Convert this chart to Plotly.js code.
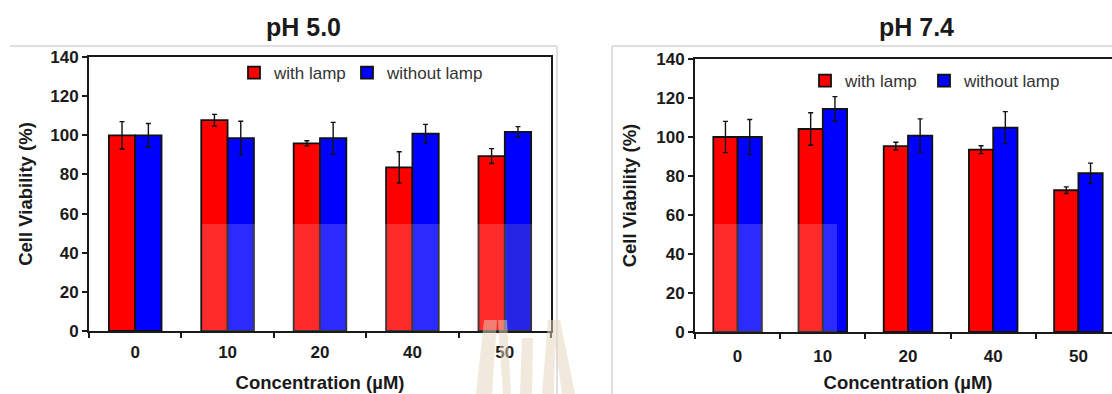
<!DOCTYPE html>
<html>
<head>
<meta charset="utf-8">
<script src="https://cdn.plot.ly/plotly-3.0.1.min.js"></script>
<style>
html, body { margin: 0; padding: 0; overflow: hidden; background: #fff; }
#chart { width: 1126px; height: 394px; }
</style>
</head>
<body>
<div id="chart"></div>
<script>
// ---- data ----
const concentrations = ['0', '10', '20', '40', '50'];

const ph50_withLamp = [100, 107.7, 95.9, 83.6, 89.4];
const ph50_withLampErr = [7, 3, 1.3, 8, 3.8];
const ph50_withoutLamp = [100, 98.6, 98.6, 100.8, 101.7];
const ph50_withoutLampErr = [6, 8.6, 8, 4.8, 2.7];

const ph74_withLamp = [100, 104.1, 95.3, 93.5, 72.7];
const ph74_withLampErr = [8, 8.3, 2, 2, 1.7];
const ph74_withoutLamp = [100, 114.4, 100.7, 104.8, 81.4];
const ph74_withoutLampErr = [9, 6.3, 8.6, 8.2, 5.2];

const panelTitles = ['pH 5.0', 'pH 7.4'];
const seriesNames = ['with lamp', 'without lamp'];

// ---- layout helpers ----
const W = 1126, H = 394;
const px = x => x / W;
const py = y => 1 - y / H;
const FONT = 'Liberation Sans, Arial, Helvetica, sans-serif';
const RED = '#ff0000', BLUE = '#0000ff';

function barTrace(name, y, err, color, xa, ya, legend) {
  return {
    type: 'bar', name: name, x: concentrations, y: y,
    xaxis: xa, yaxis: ya, legend: legend, showlegend: true,
    marker: { color: color, line: { color: '#111', width: 1.8 } },
    error_y: { type: 'data', array: err, visible: true, color: '#111', thickness: 1.4, width: 2.5 },
    hoverinfo: 'x+y'
  };
}

const data = [
  barTrace(seriesNames[0], ph50_withLamp, ph50_withLampErr, RED, 'x', 'y', 'legend'),
  barTrace(seriesNames[1], ph50_withoutLamp, ph50_withoutLampErr, BLUE, 'x', 'y', 'legend3'),
  barTrace(seriesNames[0], ph74_withLamp, ph74_withLampErr, RED, 'x2', 'y2', 'legend2'),
  barTrace(seriesNames[1], ph74_withoutLamp, ph74_withoutLampErr, BLUE, 'x2', 'y2', 'legend4')
];

function xAxis(domain, anchor, standoff, lblOff) {
  return {
    domain: domain, anchor: anchor, type: 'category',
    showline: true, linecolor: '#1a1a1a', linewidth: 2, mirror: true,
    ticks: 'outside', tickson: 'boundaries', ticklen: 5, tickwidth: 2, tickcolor: '#1a1a1a',
    ticklabelstandoff: lblOff,
    tickfont: { family: FONT, size: 17, color: '#1a1a1a', weight: 'bold' },
    showgrid: false, zeroline: false, automargin: false, fixedrange: true,
    title: { text: 'Concentration (µM)', font: { family: FONT, size: 18.5, color: '#1a1a1a', weight: 'bold' }, standoff: standoff }
  };
}
function yAxis(domain, anchor, standoff) {
  return {
    domain: domain, anchor: anchor, range: [0, 140], dtick: 20,
    showline: true, linecolor: '#1a1a1a', linewidth: 2, mirror: true,
    ticks: 'outside', ticklen: 5, tickwidth: 2, tickcolor: '#1a1a1a',
    tickfont: { family: FONT, size: 17, color: '#1a1a1a', weight: 'bold' },
    showgrid: false, zeroline: false, automargin: false, fixedrange: true,
    title: { text: 'Cell Viability (%)', font: { family: FONT, size: 18.5, color: '#1a1a1a', weight: 'bold' }, standoff: standoff }
  };
}

function legendCfg(x, y) {
  return {
    x: x, y: y, xanchor: 'left', yanchor: 'middle', orientation: 'h',
    font: { family: FONT, size: 17, color: '#333' },
    bgcolor: 'rgba(0,0,0,0)', borderwidth: 0, itemclick: false, itemdoubleclick: false,
    traceorder: 'normal'
  };
}

const BEIGE = 'rgba(228,212,184,0.5)';
const shapes = [
  // gray panel frames
  { type: 'line', xref: 'paper', yref: 'paper', x0: px(10), x1: px(557), y0: py(46), y1: py(46), line: { color: '#d4d4d4', width: 1.5 } },
  { type: 'line', xref: 'paper', yref: 'paper', x0: px(557), x1: px(557), y0: py(46), y1: 0, line: { color: '#d4d4d4', width: 1.5 } },
  { type: 'line', xref: 'paper', yref: 'paper', x0: px(612), x1: px(612), y0: py(46), y1: 0, line: { color: '#d4d4d4', width: 1.5 } },
  { type: 'line', xref: 'paper', yref: 'paper', x0: px(612), x1: 1, y0: py(46), y1: py(46), line: { color: '#d4d4d4', width: 1.5 } },
  // translucent watermark overlays
  { type: 'rect', xref: 'paper', yref: 'paper', layer: 'above', x0: px(202), x1: px(539), y0: py(331), y1: py(224), fillcolor: 'rgba(255,255,255,0.17)', line: { width: 0 } },
  { type: 'rect', xref: 'paper', yref: 'paper', layer: 'above', x0: px(714), x1: px(837), y0: py(332), y1: py(224), fillcolor: 'rgba(255,255,255,0.17)', line: { width: 0 } },
  { type: 'rect', xref: 'paper', yref: 'paper', layer: 'above', x0: px(507), x1: px(532), y0: py(330), y1: py(224), fillcolor: 'rgba(20,10,80,0.15)', line: { width: 0 } },
  // beige watermark letters
  { type: 'path', xref: 'paper', yref: 'paper', layer: 'above', fillcolor: BEIGE, line: { width: 0 },
    path: `M${px(476)},${py(394)} L${px(484)},${py(320)} L${px(497)},${py(320)} L${px(492)},${py(394)} Z` },
  { type: 'path', xref: 'paper', yref: 'paper', layer: 'above', fillcolor: BEIGE, line: { width: 0 },
    path: `M${px(498)},${py(320)} L${px(507)},${py(320)} L${px(511)},${py(394)} L${px(503)},${py(394)} Z` },
  { type: 'path', xref: 'paper', yref: 'paper', layer: 'above', fillcolor: BEIGE, line: { width: 0 },
    path: `M${px(520)},${py(394)} L${px(522)},${py(338)} L${px(533)},${py(338)} L${px(532)},${py(394)} Z` },
  { type: 'path', xref: 'paper', yref: 'paper', layer: 'above', fillcolor: BEIGE, line: { width: 0 },
    path: `M${px(542)},${py(394)} L${px(548)},${py(320)} L${px(560)},${py(320)} L${px(575)},${py(394)} L${px(562)},${py(394)} L${px(555)},${py(345)} L${px(554)},${py(394)} Z` }
];

const annotations = [
  { text: panelTitles[0], xref: 'paper', yref: 'paper', x: px(303), y: py(27), xanchor: 'center', yanchor: 'middle', showarrow: false,
    font: { family: FONT, size: 25, color: '#1a1a1a', weight: 'bold' } },
  { text: panelTitles[1], xref: 'paper', yref: 'paper', x: px(916), y: py(27), xanchor: 'center', yanchor: 'middle', showarrow: false,
    font: { family: FONT, size: 25, color: '#1a1a1a', weight: 'bold' } }
];

const layout = {
  width: W, height: H,
  margin: { l: 0, r: 0, t: 0, b: 0 },
  paper_bgcolor: '#fff', plot_bgcolor: '#fff',
  barmode: 'group', bargap: 0.43, bargroupgap: 0,
  xaxis: xAxis([px(89), px(551)], 'y', 15, 5),
  yaxis: yAxis([py(331), py(57)], 'x', 13),
  xaxis2: xAxis([px(695), px(1121)], 'y2', 11, 8),
  yaxis2: yAxis([py(332), py(59)], 'x2', 15),
  legend: legendCfg(px(234), py(73)),
  legend3: legendCfg(px(347), py(73)),
  legend2: legendCfg(px(805), py(81)),
  legend4: legendCfg(px(924), py(81)),
  shapes: shapes,
  annotations: annotations,
  font: { family: FONT }
};

Plotly.newPlot('chart', data, layout, { displayModeBar: false, staticPlot: true });
</script>
</body>
</html>
